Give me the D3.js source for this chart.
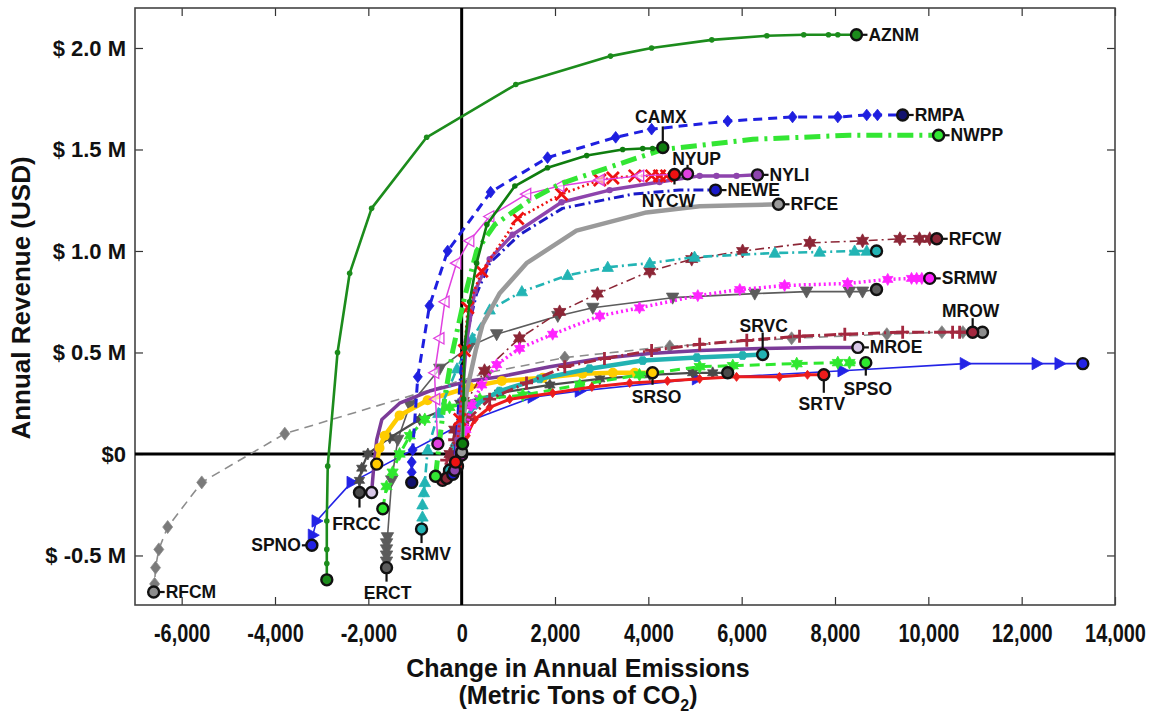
<!DOCTYPE html>
<html><head><meta charset="utf-8">
<script src="https://cdn.jsdelivr.net/npm/d3@7"></script>
<style>body{margin:0;background:#fff}svg{display:block}</style>
</head><body>
<svg id="chart" width="1162" height="719"></svg>
<script>
// ---------- DATA: [change in annual emissions (t CO2), annual revenue ($M)] ----------
const AZNM = [[-2890,-0.62],[-2890,-0.54],[-2890,-0.47],[-2890,-0.33],[-2870,-0.06],[-2660,0.50],[-2400,0.89],[-1930,1.21],[-750,1.56],[1160,1.82],[3190,1.96],[4070,2.00],[5360,2.04],[6540,2.06],[7330,2.065],[7860,2.065],[8060,2.065],[8460,2.065]];
const RMPA = [[-1070,-0.14],[-1070,-0.09],[-1070,-0.04],[-1050,0.02],[-940,0.38],[-690,0.73],[-300,1.00],[620,1.29],[1840,1.46],[3300,1.56],[4070,1.60],[5700,1.64],[7090,1.66],[8060,1.66],[8680,1.67],[8910,1.67],[9450,1.67]];
const NWPP = [[-560,-0.11],[-470,0.07],[-360,0.28],[-190,0.51],[60,0.77],[320,1.00],[710,1.13],[1460,1.25],[2100,1.33],[3390,1.43],[4310,1.50],[6240,1.55],[8310,1.57],[10220,1.57]];
const CAMX = [[20,0.05],[40,0.27],[60,0.52],[170,0.75],[320,0.94],[540,1.13],[1140,1.32],[1840,1.41],[2680,1.47],[3450,1.50],[3880,1.505],[4090,1.505],[4310,1.51]];
const NYUP = [[-510,0.05],[-560,0.27],[-580,0.40],[-470,0.57],[-360,0.75],[-110,0.94],[170,1.05],[600,1.17],[1390,1.28],[2100,1.32],[2960,1.35],[3810,1.37],[4840,1.38]];
const NYCW = [[-130,-0.04],[-40,0.17],[60,0.51],[130,0.72],[430,0.90],[1200,1.16],[2140,1.28],[2960,1.35],[3240,1.36],[3710,1.37],[4070,1.37],[4240,1.37],[4390,1.37],[4560,1.377]];
const NYLI = [[-150,-0.08],[-90,0.07],[0,0.27],[110,0.56],[280,0.80],[600,0.96],[1090,1.08],[2140,1.24],[3170,1.30],[4240,1.34],[5100,1.37],[5460,1.37],[5890,1.37],[6340,1.375]];
const NEWE = [[-190,-0.10],[-110,0.07],[-60,0.27],[0,0.46],[110,0.59],[320,0.79],[600,0.94],[1240,1.08],[2160,1.21],[3660,1.28],[4670,1.30],[5440,1.30]];
const RFCE = [[0,0.01],[40,0.17],[110,0.31],[300,0.51],[450,0.64],[810,0.79],[1390,0.94],[2460,1.10],[3960,1.19],[5100,1.22],[5960,1.225],[6790,1.23]];
const RFCW = [[-320,-0.12],[-250,0.00],[-150,0.12],[60,0.24],[490,0.41],[1240,0.57],[2100,0.70],[2910,0.79],[4030,0.90],[4930,0.96],[6020,1.00],[7460,1.04],[8590,1.05],[9390,1.06],[9810,1.06],[10030,1.06],[10180,1.06]];
const SRMV = [[-860,-0.37],[-840,-0.31],[-840,-0.25],[-810,-0.19],[-790,-0.14],[-730,0.02],[-500,0.20],[-100,0.42],[230,0.57],[600,0.71],[1290,0.80],[2270,0.88],[3130,0.92],[4030,0.94],[4990,0.97],[6710,0.99],[7670,0.995],[8420,1.00],[8680,1.00],[8890,1.00]];
const SRMW = [[0,-0.005],[90,0.12],[210,0.24],[430,0.34],[750,0.44],[1240,0.52],[1950,0.59],[2960,0.68],[3810,0.72],[5060,0.78],[5960,0.81],[6920,0.83],[8270,0.84],[9130,0.86],[9640,0.865],[9750,0.865],[9860,0.865],[10030,0.865]];
const ERCT = [[-1610,-0.56],[-1610,-0.53],[-1610,-0.50],[-1610,-0.47],[-1610,-0.44],[-1590,-0.41],[-1500,-0.13],[-1370,0.07],[-1110,0.24],[-470,0.42],[170,0.53],[750,0.59],[2060,0.68],[2810,0.72],[4520,0.77],[6280,0.79],[7390,0.80],[8310,0.80],[8590,0.80],[8890,0.81]];
const RFCM = [[-6600,-0.68],[-6580,-0.64],[-6560,-0.56],[-6490,-0.47],[-6300,-0.36],[-5570,-0.14],[-3790,0.10],[540,0.40],[2210,0.475],[4460,0.53],[7070,0.57],[9110,0.59],[10290,0.60],[10740,0.60],[11160,0.60]];
const MROW = [[-410,-0.13],[-320,-0.03],[-150,0.07],[130,0.17],[600,0.27],[1390,0.35],[2210,0.43],[3060,0.47],[4070,0.51],[5100,0.54],[6110,0.56],[7240,0.58],[8210,0.59],[9450,0.60],[10520,0.60],[10670,0.60],[10950,0.60]];
const SRVC = [[-260,-0.08],[-150,0.04],[0,0.14],[280,0.24],[810,0.31],[1670,0.37],[2740,0.42],[3880,0.46],[5040,0.475],[6020,0.485],[6450,0.49]];
const MROE = [[-1930,-0.19],[-1890,-0.08],[-1820,0.07],[-1710,0.17],[-1330,0.25],[-690,0.31],[170,0.36],[810,0.38],[1890,0.43],[2960,0.47],[4030,0.495],[5100,0.51],[6390,0.52],[7670,0.525],[8490,0.525]];
const SPSO = [[-1690,-0.27],[-1610,-0.16],[-1480,-0.09],[-1330,0.00],[-1110,0.09],[-790,0.17],[-260,0.23],[390,0.27],[1310,0.29],[2530,0.34],[3810,0.39],[5100,0.43],[5810,0.435],[7180,0.445],[8060,0.45],[8310,0.45],[8660,0.45]];
const SRTV = [[-90,-0.06],[0,0.02],[110,0.09],[280,0.17],[600,0.23],[1030,0.27],[1950,0.30],[2790,0.33],[3600,0.35],[4410,0.36],[5100,0.37],[5890,0.38],[6810,0.38],[7410,0.39],[7760,0.39]];
const SPNO = [[-3210,-0.45],[-3190,-0.40],[-3110,-0.33],[-2360,-0.14],[20,0.15],[1520,0.28],[2530,0.31],[5040,0.37],[8160,0.41],[10780,0.445],[12320,0.445],[12810,0.445],[13310,0.445]];
const SRSO = [[-1820,-0.05],[-1760,0.03],[-1650,0.09],[-1330,0.19],[-730,0.265],[170,0.33],[860,0.36],[1740,0.375],[2590,0.395],[3240,0.40],[3710,0.40],[4090,0.40]];
const FRCC = [[-2190,-0.19],[-2190,-0.13],[-2140,-0.07],[-2010,0.00],[-1540,0.08],[-900,0.17],[-40,0.25],[810,0.30],[1890,0.34],[2960,0.37],[4030,0.39],[4950,0.40],[5380,0.40],[5700,0.40]];

const xTicks = [-6000,-4000,-2000,0,2000,4000,6000,8000,10000,12000,14000];
const yTicks = [-0.5,0,0.5,1.0,1.5,2.0];
const yTickLabels = ["$ -0.5 M","$0","$ 0.5 M","$ 1.0 M","$ 1.5 M","$ 2.0 M"];

// ---------- STYLES ----------
const series = [
 {name:"RFCM", data:RFCM, color:"#8c8c8c", w:1.6, dash:"9,6", marker:"diamond", ms:5, mfill:"#7a7a7a"},
 {name:"SPNO", data:SPNO, color:"#2323e6", w:1.6, dash:null, marker:"triRight", ms:6.5},
 {name:"AZNM", data:AZNM, color:"#1c8c1c", w:2.6, dash:null, marker:"dot", ms:2.8},
 {name:"ERCT", data:ERCT, color:"#5c5c5c", w:1.6, dash:null, marker:"triDown", ms:6.5},
 {name:"FRCC", data:FRCC, color:"#4a4a4a", w:2.2, dash:null, marker:"hexagram", ms:6},
 {name:"MROE", data:MROE, color:"#7b3b98", w:3.5, dash:null, marker:null, endFill:"#d8c8e8"},
 {name:"SRSO", data:SRSO, color:"#ffcc00", w:4.5, dash:null, marker:"dot", ms:5},
 {name:"SPSO", data:SPSO, color:"#2ee82e", w:3, dash:"10,6", marker:"hexagram", ms:6.5},
 {name:"SRTV", data:SRTV, color:"#ec1c1c", w:3, dash:null, marker:"diamond", ms:3.5},
 {name:"SRVC", data:SRVC, color:"#22b2b2", w:4.5, dash:null, marker:"hexagon", ms:4.5},
 {name:"MROW", data:MROW, color:"#a3283f", w:3, dash:"12,4,2,4", marker:"plus", ms:6.5},
 {name:"RFCW", data:RFCW, color:"#8c2636", w:1.6, dash:"9,4,2,4", marker:"hexagram", ms:7},
 {name:"SRMW", data:SRMW, color:"#ff22ff", w:3.5, dash:"2,3", marker:"hexagram", ms:6},
 {name:"SRMV", data:SRMV, color:"#22b4b4", w:2.6, dash:"9,4,2,4", marker:"triUp", ms:6},
 {name:"RFCE", data:RFCE, color:"#9a9a9a", w:4.5, dash:null, marker:null},
 {name:"NEWE", data:NEWE, color:"#1a1ac8", w:3, dash:"10,4,2,4", marker:null},
 {name:"NYLI", data:NYLI, color:"#8e44ad", w:3.5, dash:null, marker:"dot", ms:3.2},
 {name:"NYCW", data:NYCW, color:"#ee1111", w:2.6, dash:"2,3", marker:"x", ms:6},
 {name:"NYUP", data:NYUP, color:"#e040e0", w:1.5, dash:null, marker:"triLeftOpen", ms:6},
 {name:"NWPP", data:NWPP, color:"#33e633", w:5, dash:"16,6,3,6", marker:null},
 {name:"CAMX", data:CAMX, color:"#0f7d0f", w:2.6, dash:null, marker:"dot", ms:2.8},
 {name:"RMPA", data:RMPA, color:"#1f1fe0", w:3, dash:"9,6", marker:"diamond", ms:4.5, endFill:"#12126e"}
];

const labelLayout = {
 AZNM:{end:"last",dir:"right"}, RMPA:{end:"last",dir:"right"}, NWPP:{end:"last",dir:"right"},
 NYLI:{end:"last",dir:"right"}, NEWE:{end:"last",dir:"right"}, RFCE:{end:"last",dir:"right"},
 RFCW:{end:"last",dir:"right"}, SRMW:{end:"last",dir:"right"}, MROE:{end:"last",dir:"right"},
 RFCM:{end:"first",dir:"right"}, SPNO:{end:"first",dir:"left"},
 CAMX:{end:"last",dir:"up",tick:21,gap:24,dx:-2},
 NYUP:{end:"last",dir:"up",tick:9,gap:9,dx:9},
 SRVC:{end:"last",dir:"up",tick:22,gap:23,dx:1},
 MROW:{end:"last",dir:"up",tick:14,gap:15,dx:-2},
 NYCW:{end:"last",dir:"down",tick:10,gap:20,dx:-6},
 SPSO:{end:"last",dir:"down",tick:13,gap:20,dx:2},
 SRTV:{end:"last",dir:"down",tick:18,gap:23,dx:-2},
 SRSO:{end:"last",dir:"down",tick:12,gap:18,dx:4},
 SRMV:{end:"first",dir:"down",tick:14,gap:18,dx:4},
 ERCT:{end:"first",dir:"down",tick:14,gap:19,dx:1},
 FRCC:{end:"first",dir:"down",tick:15,gap:25,dx:-3}
};

// ---------- CHART ----------
const svg = d3.select("#chart");
const L=135, R=1115, T=8, B=605;
const x = d3.scaleLinear().domain([-7000,14000]).range([L,R]);
const y = d3.scaleLinear().domain([-0.744,2.197]).range([B,T]);

const sans = "'Liberation Sans',Arial,Helvetica,sans-serif";

// axes (ticks inside on all four sides)
const fmtX = d => d3.format(",")(d).replace("\u2212","-");
const gB = svg.append("g").attr("transform",`translate(0,${B})`)
  .call(d3.axisBottom(x).tickValues(xTicks).tickSize(-8).tickPadding(19).tickFormat(fmtX));
gB.selectAll("text").attr("font-family",sans).attr("font-weight","bold").attr("font-size",25.5).attr("fill","#111")
  .each(function(){ const len=this.getComputedTextLength(); d3.select(this).attr("textLength",len*0.78).attr("lengthAdjust","spacingAndGlyphs"); });
svg.append("g").attr("transform",`translate(0,${T})`)
  .call(d3.axisTop(x).tickValues(xTicks).tickSize(-8).tickFormat(""));
const gL = svg.append("g").attr("transform",`translate(${L},0)`)
  .call(d3.axisLeft(y).tickValues(yTicks).tickSize(-8).tickPadding(9).tickFormat((d,i)=>yTickLabels[i]));
gL.selectAll("text").attr("font-family",sans).attr("font-weight","bold").attr("font-size",22).attr("fill","#111");
svg.append("g").attr("transform",`translate(${R},0)`)
  .call(d3.axisRight(y).tickValues(yTicks).tickSize(-8).tickFormat(""));
svg.selectAll(".domain").remove();
svg.selectAll(".tick line").attr("stroke","#333").attr("stroke-width",1.2);

// frame
svg.append("rect").attr("x",L).attr("y",T).attr("width",R-L).attr("height",B-T)
  .attr("fill","none").attr("stroke","#444").attr("stroke-width",1.6);

// zero lines
svg.append("line").attr("x1",x(0)).attr("x2",x(0)).attr("y1",T).attr("y2",B).attr("stroke","#000").attr("stroke-width",3);
svg.append("line").attr("x1",L).attr("x2",R).attr("y1",y(0)).attr("y2",y(0)).attr("stroke","#000").attr("stroke-width",3);

// marker shapes
function markerPath(type, r){
  const p = [];
  const poly = pts => "M"+pts.map(q=>q[0].toFixed(2)+","+q[1].toFixed(2)).join("L")+"Z";
  switch(type){
    case "diamond": return poly([[0,-r*1.3],[r,0],[0,r*1.3],[-r,0]]);
    case "triUp": return poly([[0,-r],[r*0.95,r*0.7],[-r*0.95,r*0.7]]);
    case "triDown": return poly([[0,r],[r*0.95,-r*0.7],[-r*0.95,-r*0.7]]);
    case "triRight": return poly([[r,0],[-r*0.7,-r*0.95],[-r*0.7,r*0.95]]);
    case "triLeftOpen": return poly([[-r,0],[r*0.7,-r*0.95],[r*0.7,r*0.95]]);
    case "x": return `M${-r},${-r}L${r},${r}M${-r},${r}L${r},${-r}`;
    case "plus": return `M${-r},0H${r}M0,${-r}V${r}`;
    case "hexagram":
      for(let k=0;k<12;k++){const a=-Math.PI/2+k*Math.PI/6, rr=k%2?r*0.55:r; p.push([rr*Math.cos(a),rr*Math.sin(a)]);}
      return poly(p);
    case "hexagon":
      for(let k=0;k<6;k++){const a=k*Math.PI/3; p.push([r*Math.cos(a),r*Math.sin(a)]);}
      return poly(p);
  }
  return "";
}

const line = d3.line().x(d=>x(d[0])).y(d=>y(d[1]));
const plot = svg.append("g");

series.forEach(s=>{
  const g = plot.append("g");
  g.append("path").attr("d",line(s.data)).attr("fill","none").attr("stroke",s.color)
    .attr("stroke-width",s.w).attr("stroke-dasharray",s.dash).attr("stroke-linejoin","round");
  if(s.marker){
    const inner = s.data.slice(1,-1);
    if(s.marker==="dot"){
      g.selectAll("circle.m").data(inner).join("circle").attr("class","m")
        .attr("cx",d=>x(d[0])).attr("cy",d=>y(d[1])).attr("r",s.ms).attr("fill",s.color);
    } else {
      const stroked = s.marker==="x"||s.marker==="plus";
      const open = s.marker==="triLeftOpen";
      g.selectAll("path.m").data(inner).join("path").attr("class","m")
        .attr("transform",d=>`translate(${x(d[0])},${y(d[1])})`)
        .attr("d",markerPath(s.marker,s.ms))
        .attr("fill",stroked?"none":(open?"rgba(255,255,255,0.6)":(s.mfill||s.color)))
        .attr("stroke",s.color).attr("stroke-width",stroked?2.8:(open?1.3:0.8));
    }
  }
});

// label ticks + endpoint circles + labels
const labG = svg.append("g");
series.forEach(s=>{
  const lay = labelLayout[s.name];
  const pt = lay.end==="first" ? s.data[0] : s.data[s.data.length-1];
  const cx = x(pt[0]), cy = y(pt[1]);
  const dx = lay.dx||0;
  let tx, ty, anchor="middle", x2=cx, y2=cy;
  if(lay.dir==="right"){x2=cx+11; tx=cx+12; ty=cy+6; anchor="start";}
  else if(lay.dir==="left"){x2=cx-10; tx=cx-11; ty=cy+6; anchor="end";}
  else if(lay.dir==="up"){y2=cy-lay.tick; tx=cx+dx; ty=cy-lay.gap;}
  else {y2=cy+lay.tick; tx=cx+dx; ty=cy+lay.gap+12.5;}
  labG.append("line").attr("x1",cx).attr("y1",cy).attr("x2",x2).attr("y2",y2)
    .attr("stroke","#111").attr("stroke-width",2.2);
  labG.append("text").attr("x",tx).attr("y",ty).attr("text-anchor",anchor)
    .attr("font-family",sans).attr("font-weight","bold").attr("font-size",17.5).attr("fill","#111")
    .text(s.name);
});
series.forEach(s=>{
  [s.data[0], s.data[s.data.length-1]].forEach(pt=>{
    labG.append("circle").attr("cx",x(pt[0])).attr("cy",y(pt[1])).attr("r",5.5)
      .attr("fill",s.endFill||s.color).attr("stroke","#111").attr("stroke-width",2.4);
  });
});

// axis titles
svg.append("text").attr("x",578).attr("y",677).attr("text-anchor","middle")
  .attr("font-family",sans).attr("font-weight","bold").attr("font-size",25).attr("fill","#111")
  .text("Change in Annual Emissions");
const t2 = svg.append("text").attr("x",578).attr("y",704).attr("text-anchor","middle")
  .attr("font-family",sans).attr("font-weight","bold").attr("font-size",25).attr("fill","#111");
t2.append("tspan").text("(Metric Tons of CO");
t2.append("tspan").attr("font-size",16).attr("dy",7).text("2");
t2.append("tspan").attr("dy",-7).text(")");

svg.append("text").attr("transform","translate(30,298) rotate(-90)").attr("text-anchor","middle")
  .attr("font-family",sans).attr("font-weight","bold").attr("font-size",26).attr("fill","#111")
  .text("Annual Revenue (USD)");
</script>
</body></html>
